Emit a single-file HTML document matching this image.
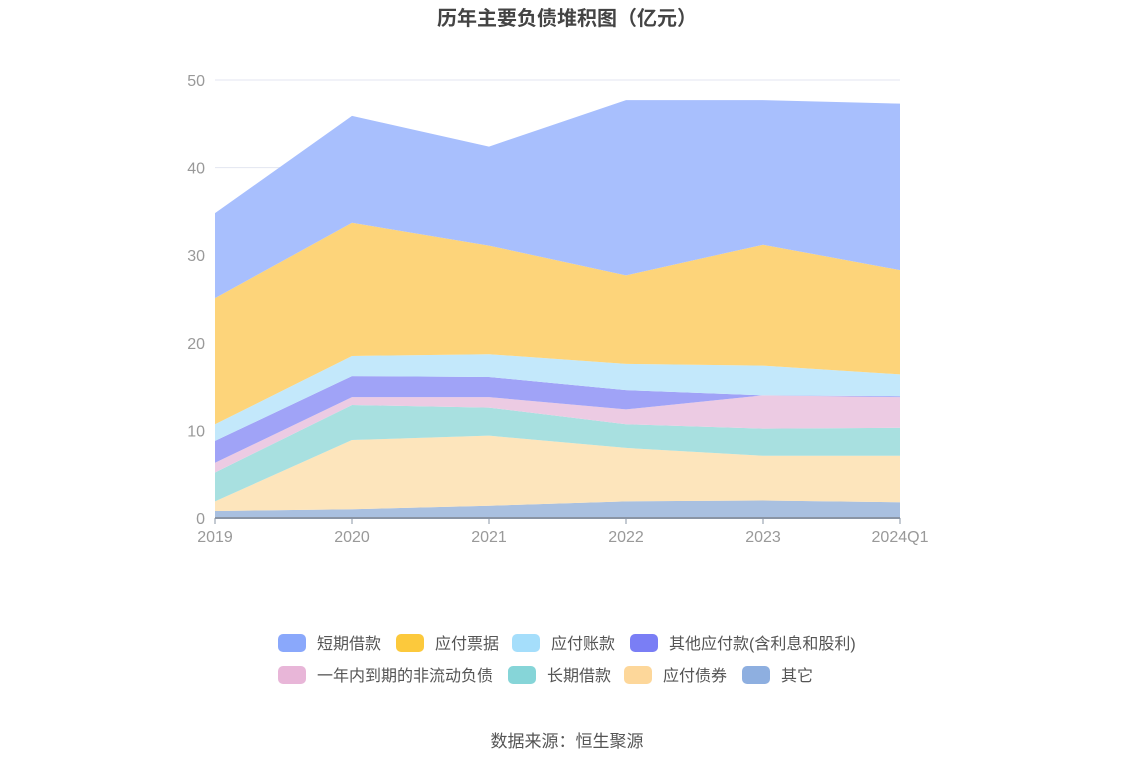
<!DOCTYPE html>
<html><head><meta charset="utf-8"><style>
body{margin:0;background:#fff;font-family:"Liberation Sans","Noto Sans CJK SC",sans-serif;}
#wrap{position:relative;width:1134px;height:766px;overflow:hidden}
</style></head><body><div id="wrap">
<svg id="chart" width="1134" height="766" xmlns="http://www.w3.org/2000/svg">
<text x="567" y="25" text-anchor="middle" font-size="20" font-weight="bold" fill="#444" font-family="Liberation Sans,Noto Sans CJK SC,sans-serif">历年主要负债堆积图（亿元）</text>
<g id="grid"></g><g id="areas"></g><g id="axes"></g><g id="legend"></g>
<text x="567" y="747" text-anchor="middle" font-size="17" fill="#555" font-family="Liberation Sans,Noto Sans CJK SC,sans-serif">数据来源：恒生聚源</text>
</svg></div>
<script>
const categories=["2019","2020","2021","2022","2023","2024Q1"];
const yTicks=[0,10,20,30,40,50];
const other=[0.8,1.0,1.4,1.9,2.0,1.8];
const bonds=[1.1,7.9,8.0,6.1,5.1,5.3];
const longLoans=[3.3,4.0,3.2,2.7,3.1,3.2];
const currentNonCurrent=[1.1,0.9,1.2,1.7,3.8,3.5];
const otherPayables=[2.5,2.4,2.3,2.2,0.0,0.1];
const accountsPayable=[1.9,2.3,2.6,3.0,3.4,2.5];
const notesPayable=[14.4,15.2,12.4,10.1,13.8,11.9];
const shortLoans=[9.7,12.2,11.3,20.0,16.5,19.0];
const seriesNames=["短期借款","应付票据","应付账款","其他应付款(含利息和股利)","一年内到期的非流动负债","长期借款","应付债券","其它"];
const NS="http://www.w3.org/2000/svg";
const x0=215,x1=900,y0=518,y1=80,yMax=50;
const xs=i=>x0+(x1-x0)*i/(categories.length-1);
const ys=v=>y0-(y0-y1)*v/yMax;
function mk(t,a,p){const e=document.createElementNS(NS,t);for(const k in a)e.setAttribute(k,a[k]);p.appendChild(e);return e;}
const grid=document.getElementById('grid'),axes=document.getElementById('axes'),areas=document.getElementById('areas'),legend=document.getElementById('legend');
yTicks.forEach(t=>{
 const l=mk('line',{x1:x0,x2:x1,y1:ys(t),y2:ys(t),stroke:'#e3e6f0','stroke-width':1},grid);
 
 
 const tx=mk('text',{x:205,y:ys(t)+6,'text-anchor':'end','font-size':16,fill:'#999'},axes);tx.textContent=t;
 
 
});
const ax=mk('line',{x1:x0,x2:x1,y1:y0,y2:y0,stroke:'#8a95a5','stroke-width':2},axes);


categories.forEach((c,i)=>{
 mk('line',{x1:xs(i),x2:xs(i),y1:y0,y2:y0+6,stroke:'#8a95a5'},axes);
 const tx=mk('text',{x:xs(i),y:542,'text-anchor':'middle','font-size':16,fill:'#999'},axes);tx.textContent=c;
 
 
});
const stackOrder=[other,bonds,longLoans,currentNonCurrent,otherPayables,accountsPayable,notesPayable,shortLoans];
const fills=["#a9c0e0","#fde5bc","#a8e0e0","#eccbe3","#a0a3f7","#c3e8fb","#fdd47a","#a8bffd"];
const names=["其它","应付债券","长期借款","一年内到期的非流动负债","其他应付款","应付账款","应付票据","短期借款"];
let base=categories.map(()=>0);
stackOrder.forEach((s,k)=>{
 const top=base.map((b,i)=>b+s[i]);
 let d='';top.forEach((v,i)=>d+=(i?'L':'M')+xs(i)+','+ys(v));
 for(let i=base.length-1;i>=0;i--)d+='L'+xs(i)+','+ys(base[i]);
 const p=mk('path',{d:d+'Z',fill:fills[k]},areas);
 
 
 base=top;
});
const legCols=["#8aa8fb","#fcc93c","#a5defb","#7a7ef5","#e8b6d8","#86d5d8","#fdd79a","#8eafe0"];
const legX=[278,396,512,630,278,508,624,742];
const legY=[643,643,643,643,675,675,675,675];
seriesNames.forEach((n,i)=>{
 const g=mk('g',{},legend);
 
 
 mk('rect',{x:legX[i],y:legY[i]-9,width:28,height:18,rx:5,fill:legCols[i]},g);
 const t=mk('text',{x:legX[i]+39,y:legY[i]+6,'font-size':16,fill:'#555'},g);t.textContent=n;
});
</script></body></html>
